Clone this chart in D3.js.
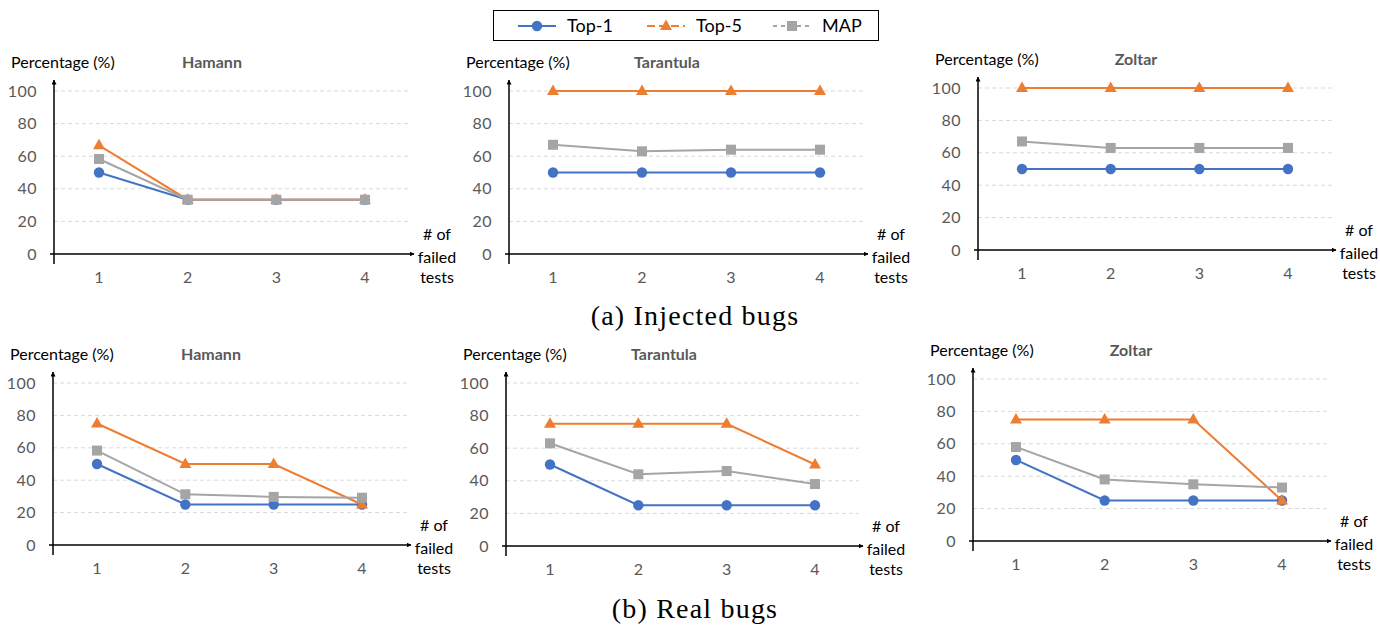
<!DOCTYPE html>
<html>
  <head>
    <meta charset="UTF-8" />
    <style>
      body {
        margin: 0;
        background: #fff;
      }
      svg text {
        font-family: Lato, "Open Sans", sans-serif;
      }
      .tick-label {
        font-size: 16px;
        fill: #595959;
      }
      .caption {
        font-family: "Liberation Serif", "DejaVu Serif", serif !important;
        font-size: 28px;
        letter-spacing: 1.2px;
        fill: #000;
      }
    </style>
  </head>
  <body>
    <svg></svg>
    <script src="https://d3js.org/d3.v7.min.js"></script>
    <script>
      let width = 1380,
        height = 625;

      // data
      const failedTests = [1, 2, 3, 4];
      const yTicks = [0, 20, 40, 60, 80, 100];
      const seriesNames = ["Top-1", "Top-5", "MAP"];
      const panelTitles = ["Hamann", "Tarantula", "Zoltar"];
      const captions = ["(a) Injected bugs", "(b) Real bugs"];

      // [Top-1, Top-5, MAP] per panel
      const injectedHamann = [
        [50, 33.3, 33.3, 33.3],
        [66.7, 33.3, 33.3, 33.3],
        [58.3, 33.3, 33.3, 33.3],
      ];
      const injectedTarantula = [
        [50, 50, 50, 50],
        [100, 100, 100, 100],
        [67, 63, 64, 64],
      ];
      const injectedZoltar = [
        [50, 50, 50, 50],
        [100, 100, 100, 100],
        [67, 63, 63, 63],
      ];
      const realHamann = [
        [50, 25, 25, 25],
        [75, 50, 50, 25],
        [58.3, 31.3, 29.7, 29.2],
      ];
      const realTarantula = [
        [50, 25, 25, 25],
        [75, 75, 75, 50],
        [63, 44, 46, 38],
      ];
      const realZoltar = [
        [50, 25, 25, 25],
        [75, 75, 75, 25],
        [58, 38, 35, 33],
      ];

      const panelData = [
        injectedHamann,
        injectedTarantula,
        injectedZoltar,
        realHamann,
        realTarantula,
        realZoltar,
      ];

      // layout of each panel (pixel positions)
      const layout = [
        { ax: 54, gridEnd: 410, y0: 254, y100: 91, xa: 99, xb: 365 },
        { ax: 509, gridEnd: 864, y0: 254, y100: 91, xa: 553, xb: 820 },
        { ax: 978, gridEnd: 1332, y0: 250, y100: 88, xa: 1022, xb: 1288 },
        { ax: 53, gridEnd: 407, y0: 545, y100: 383, xa: 97, xb: 362 },
        { ax: 506, gridEnd: 859, y0: 546, y100: 383, xa: 550, xb: 815 },
        { ax: 973, gridEnd: 1327, y0: 541, y100: 379, xa: 1016, xb: 1282 },
      ];

      const colors = ["#4472C4", "#ED7D31", "#A5A5A5"];

      let svg = d3
        .select("svg")
        .attr("width", width)
        .attr("height", height)
        .attr("viewBox", "0 0 " + width + " " + height);

      svg
        .append("defs")
        .append("marker")
        .attr("id", "arrow")
        .attr("viewBox", "0 -5 10 10")
        .attr("refX", 9)
        .attr("refY", 0)
        .attr("markerWidth", 5)
        .attr("markerHeight", 5)
        .attr("markerUnits", "userSpaceOnUse")
        .attr("orient", "auto")
        .append("path")
        .attr("d", "M0,-5L10,0L0,5Z")
        .attr("fill", "#000");

      function drawMarker(g, i, x, y) {
        if (i === 0) {
          g.append("circle")
            .attr("cx", x)
            .attr("cy", y)
            .attr("r", 5.2)
            .attr("fill", colors[0]);
        } else if (i === 1) {
          g.append("path")
            .attr("d", d3.symbol().type(d3.symbolTriangle).size(62)())
            .attr("transform", "translate(" + x + "," + (y + 0.5) + ")")
            .attr("fill", colors[1]);
        } else {
          g.append("rect")
            .attr("x", x - 5)
            .attr("y", y - 5)
            .attr("width", 10)
            .attr("height", 10)
            .attr("fill", colors[2]);
        }
      }

      panelData.forEach((data, p) => {
        let L = layout[p];
        let g = svg.append("g");

        let x = d3.scaleLinear().domain([1, 4]).range([L.xa, L.xb]);
        let y = d3.scaleLinear().domain([0, 100]).range([L.y0, L.y100]);

        // grid lines
        g.selectAll(".grid")
          .data(yTicks.filter((d) => d > 0))
          .enter()
          .append("line")
          .attr("x1", L.ax)
          .attr("x2", L.gridEnd)
          .attr("y1", (d) => y(d))
          .attr("y2", (d) => y(d))
          .attr("stroke", "#D9D9D9")
          .attr("stroke-width", 1)
          .attr("stroke-dasharray", "4,3");

        // y tick labels
        g.selectAll(".ytick")
          .data(yTicks)
          .enter()
          .append("text")
          .attr("class", "tick-label")
          .attr("x", L.ax - 17)
          .attr("y", (d) => y(d))
          .attr("dy", "0.35em")
          .attr("text-anchor", "end")
          .style("letter-spacing", "0.5px")
          .text((d) => d);

        // x tick labels
        g.selectAll(".xtick")
          .data(failedTests)
          .enter()
          .append("text")
          .attr("class", "tick-label")
          .attr("x", (d) => x(d))
          .attr("y", L.y0 + 23)
          .attr("dy", "0.35em")
          .attr("text-anchor", "middle")
          .text((d) => d);

        // axes with arrows
        g.append("line")
          .attr("x1", L.ax)
          .attr("x2", L.ax)
          .attr("y1", L.y0 + 10)
          .attr("y2", L.y100 - 11)
          .attr("stroke", "#000")
          .attr("stroke-width", 1.5)
          .attr("marker-end", "url(#arrow)");
        g.append("line")
          .attr("x1", L.ax - 4)
          .attr("x2", L.gridEnd + 4)
          .attr("y1", L.y0)
          .attr("y2", L.y0)
          .attr("stroke", "#000")
          .attr("stroke-width", 1.5)
          .attr("marker-end", "url(#arrow)");

        // axis titles and panel title
        g.append("text")
          .attr("x", L.ax - 43)
          .attr("y", L.y100 - 29)
          .attr("dy", "0.35em")
          .attr("font-size", "16px")
          .attr("fill", "#000")
          .text("Percentage (%)");
        g.append("text")
          .attr("x", L.ax + 158)
          .attr("y", L.y100 - 29)
          .attr("dy", "0.35em")
          .attr("text-anchor", "middle")
          .attr("font-size", "16px")
          .attr("font-weight", "bold")
          .attr("fill", "#595959")
          .text(panelTitles[p % 3]);
        ["# of", "failed", "tests"].forEach((t, k) => {
          g.append("text")
            .attr("x", L.gridEnd + 27)
            .attr("y", L.y0 + [-20, 3, 23][k])
            .attr("dy", "0.35em")
            .attr("text-anchor", "middle")
            .attr("font-size", "16px")
            .attr("fill", "#000")
            .text(t);
        });

        // series lines and markers
        let line = d3
          .line()
          .x((d, i) => x(failedTests[i]))
          .y((d) => y(d));

        data.forEach((vals, s) => {
          let sg = g.append("g");
          sg.append("path")
            .attr("d", line(vals))
            .attr("fill", "none")
            .attr("stroke", colors[s])
            .attr("stroke-width", 2);
          vals.forEach((v, i) => drawMarker(sg, s, x(failedTests[i]), y(v)));
        });
      });

      // legend
      let legend = svg.append("g");
      legend
        .append("rect")
        .attr("x", 493.5)
        .attr("y", 10.5)
        .attr("width", 385)
        .attr("height", 30)
        .attr("fill", "#fff")
        .attr("stroke", "#000")
        .attr("stroke-width", 1);
      const legendX = [518, 647, 773];
      seriesNames.forEach((name, s) => {
        let lx = legendX[s];
        legend
          .append("line")
          .attr("x1", lx)
          .attr("x2", lx + 38)
          .attr("y1", 26)
          .attr("y2", 26)
          .attr("stroke", colors[s])
          .attr("stroke-width", 2)
          .attr("stroke-dasharray", s === 1 ? "8,4" : s === 2 ? "4,4" : null);
        drawMarker(legend, s, lx + 19, 26);
        legend
          .append("text")
          .attr("x", lx + 49)
          .attr("y", 26)
          .attr("dy", "0.35em")
          .attr("font-size", "18px")
          .attr("fill", "#000")
          .text(name);
      });

      // captions
      svg
        .selectAll(".caption")
        .data(captions)
        .enter()
        .append("text")
        .attr("class", "caption")
        .attr("x", 695)
        .attr("y", (d, i) => [325, 618][i])
        .attr("text-anchor", "middle")
        .text((d) => d);
    </script>
  </body>
</html>
